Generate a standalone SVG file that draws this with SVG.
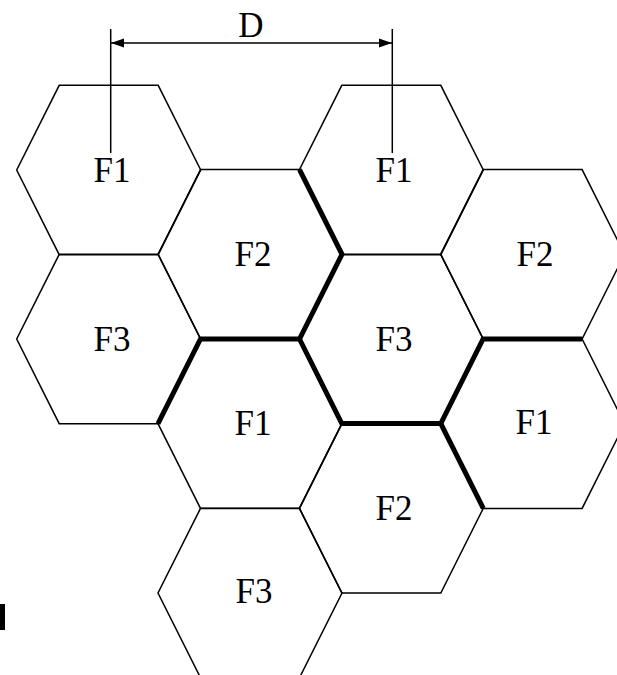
<svg xmlns="http://www.w3.org/2000/svg" width="617" height="675" viewBox="0 0 617 675">
<style>
.hex{fill:none;stroke:#000;stroke-width:1.5;stroke-linejoin:miter}
.lbl{font-family:"Liberation Serif","Times New Roman",serif;font-size:35px;fill:#000;text-anchor:middle}
.thick{fill:none;stroke:#000;stroke-width:5;stroke-linejoin:miter;stroke-linecap:butt}
.dim{fill:none;stroke:#000;stroke-width:1.5}
</style>
<defs>
<marker id="arr" markerUnits="userSpaceOnUse" markerWidth="14" markerHeight="10" refX="13" refY="5" orient="auto-start-reverse">
<path d="M0,0.5 L13,5 L0,9.5 Z" fill="#000"/>
</marker>
</defs>
<rect width="617" height="675" fill="#fff"/>
<g id="cell-c0-r1"><polygon class="hex" points="59.2,85.3 158.2,85.3 200.7,170 158.2,254.7 59.2,254.7 16.7,170"/><text class="lbl" x="112" y="182">F1</text></g>
<g id="cell-c0-r3"><polygon class="hex" points="59.2,254.3 158.2,254.3 200.7,339 158.2,423.7 59.2,423.7 16.7,339"/><text class="lbl" x="112" y="351">F3</text></g>
<g id="cell-c1-r2"><polygon class="hex" points="200.5,169.6 299.5,169.6 342,254.3 299.5,339 200.5,339 158,254.3"/><text class="lbl" x="253" y="266">F2</text></g>
<g id="cell-c1-r4"><polygon class="hex" points="200.5,339 299.5,339 342,423.7 299.5,508.4 200.5,508.4 158,423.7"/><text class="lbl" x="253" y="435">F1</text></g>
<g id="cell-c1-r6"><polygon class="hex" points="200.5,508.3 299.5,508.3 342,593 299.5,677.7 200.5,677.7 158,593"/><text class="lbl" x="254" y="603">F3</text></g>
<g id="cell-c2-r1"><polygon class="hex" points="341.8,85.3 440.8,85.3 483.3,170 440.8,254.7 341.8,254.7 299.3,170"/><text class="lbl" x="394" y="182">F1</text></g>
<g id="cell-c2-r3"><polygon class="hex" points="341.8,254.3 440.8,254.3 483.3,339 440.8,423.7 341.8,423.7 299.3,339"/><text class="lbl" x="394" y="351">F3</text></g>
<g id="cell-c2-r5"><polygon class="hex" points="341.8,423.6 440.8,423.6 483.3,508.3 440.8,593 341.8,593 299.3,508.3"/><text class="lbl" x="394" y="520">F2</text></g>
<g id="cell-c3-r2"><polygon class="hex" points="483.1,169.6 582.1,169.6 624.6,254.3 582.1,339 483.1,339 440.6,254.3"/><text class="lbl" x="535" y="266">F2</text></g>
<g id="cell-c3-r4"><polygon class="hex" points="483.1,339 582.1,339 624.6,423.7 582.1,508.4 483.1,508.4 440.6,423.7"/><text class="lbl" x="534" y="434">F1</text></g>
<g id="boundary">
<path class="thick" d="M299.5,169.6 L342,254.3 L299.5,339 L200.5,339 L158,423.7"/>
<path class="thick" d="M299.5,339 L341.8,423.6 L440.8,423.6 L483.1,339 L582.1,339"/>
<path class="thick" d="M440.8,423.6 L483.3,508.3"/>
</g>
<g id="connectors">
<line class="dim" x1="110.7" y1="29" x2="110.7" y2="153"/>
<line class="dim" x1="392.3" y1="29" x2="392.3" y2="153"/>
<line class="dim" x1="111" y1="43" x2="392" y2="43" marker-start="url(#arr)" marker-end="url(#arr)"/>
<text class="lbl" x="251" y="36.5">D</text>
</g>
<rect id="mark" x="0" y="604" width="5" height="26" fill="#000"/>
</svg>
